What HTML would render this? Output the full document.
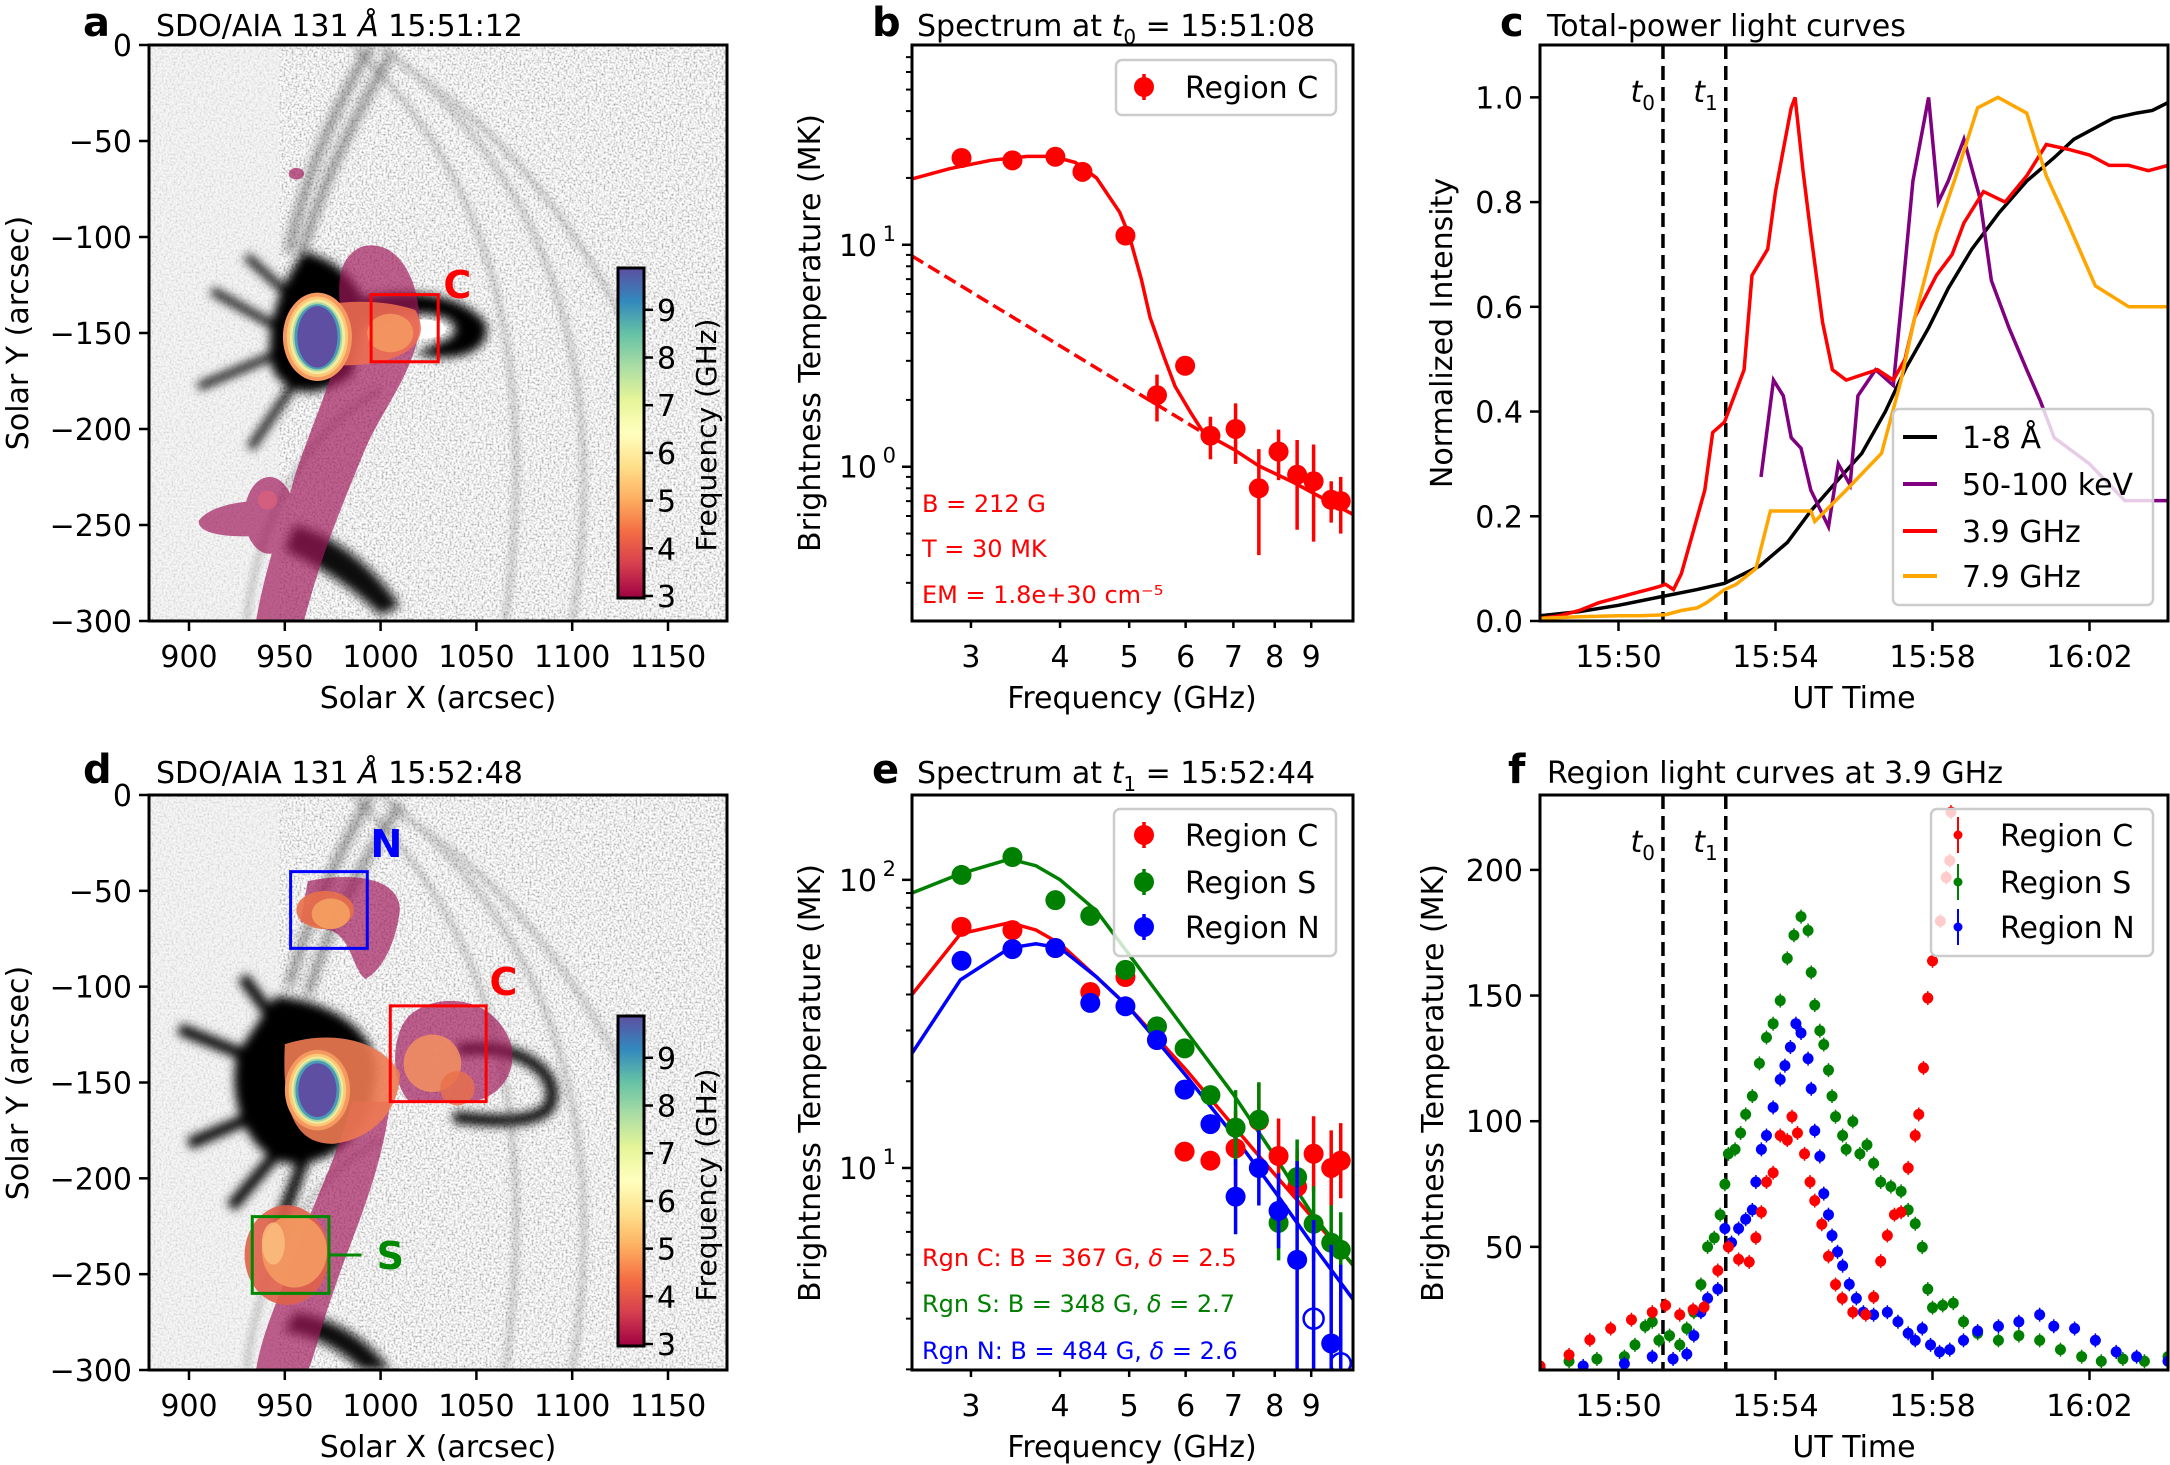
<!DOCTYPE html>
<html><head><meta charset="utf-8"><title>Radio spectra figure</title>
<style>
html,body{margin:0;padding:0;background:#fff;}
svg{display:block;font-family:"DejaVu Sans","Liberation Sans",sans-serif;}
</style></head>
<body>
<svg id="fig" width="2170" height="1465" viewBox="0 0 2170 1465" xmlns="http://www.w3.org/2000/svg">
<defs>
<filter id="noise" x="0" y="0" width="100%" height="100%">
<feTurbulence type="fractalNoise" baseFrequency="0.5" numOctaves="2" seed="3" result="t"/>
<feColorMatrix in="t" type="matrix" values="1.5 0 0 0 0.1  1.5 0 0 0 0.1  1.5 0 0 0 0.1  0 0 0 0 1"/>
</filter>
<filter id="blur3"><feGaussianBlur stdDeviation="2.5"/></filter>
<filter id="blur1"><feGaussianBlur stdDeviation="1.5"/></filter>
<linearGradient id="spec" x1="0" y1="1" x2="0" y2="0">
<stop offset="0" stop-color="#9e0142"/><stop offset="0.1" stop-color="#d53e4f"/><stop offset="0.2" stop-color="#f46d43"/><stop offset="0.3" stop-color="#fdae61"/><stop offset="0.4" stop-color="#fee08b"/><stop offset="0.5" stop-color="#ffffbf"/><stop offset="0.6" stop-color="#e6f598"/><stop offset="0.7" stop-color="#abdda4"/><stop offset="0.8" stop-color="#66c2a5"/><stop offset="0.9" stop-color="#3288bd"/><stop offset="1" stop-color="#5e4fa2"/>
</linearGradient>
<clipPath id="clipA"><rect x="149" y="45" width="578" height="576"/></clipPath>
<clipPath id="clipD"><rect x="149" y="795" width="578" height="575"/></clipPath>
<clipPath id="clipB"><rect x="912" y="45" width="441" height="576"/></clipPath>
<clipPath id="clipE"><rect x="912" y="795" width="441" height="575"/></clipPath>
<clipPath id="clipC"><rect x="1540" y="45" width="628" height="576"/></clipPath>
<clipPath id="clipF"><rect x="1540" y="795" width="628" height="575"/></clipPath>
</defs>
</svg>
<script>
// ---------- DATA ----------
// panel b: Region C spectrum at t0
const bFreq=[2.91,3.43,3.94,4.3,4.94,5.47,5.99,6.5,7.05,7.6,8.1,8.6,9.07,9.6,9.9];
const bTb=[24.6,24,24.9,21.3,11,2.1,2.85,1.38,1.48,0.8,1.17,0.92,0.86,0.71,0.70];
const bErr=[0,0,0,0,0,0.5,0,0.3,0.45,0.4,0.3,0.4,0.4,0.15,0.2];
const bFitF=[2.48,2.8,3.2,3.6,3.9,4.2,4.5,4.85,5.0,5.2,5.35,5.6,5.8,6.1,6.36,7.0,7.6,8.5,9.5,10.3];
const bFitT=[19.8,22,24,25,25,23.5,20,14,11,7,4.7,3.1,2.3,1.75,1.42,1.2,1.01,0.85,0.7,0.61];
const bDashF=[2.48,6.4];
const bDashT=[8.9,1.4];
// panel c: total power light curves (minutes after 15:48)
const cBlackT=[0,1,2,3,4,4.7,5.6,6.3,6.9,7.6,8.2,8.8,9.3,9.9,10.4,11,11.7,12.4,13.1,13.6,14.1,14.6,15.2,15.6,16];
const cBlackV=[0.01,0.018,0.03,0.045,0.06,0.072,0.105,0.15,0.21,0.27,0.32,0.4,0.48,0.56,0.635,0.71,0.78,0.84,0.885,0.92,0.94,0.96,0.97,0.975,0.99];
const cRedT=[0,0.5,1,1.5,2,2.5,3,3.2,3.4,3.6,3.9,4.2,4.4,4.7,5.0,5.2,5.4,5.8,6.0,6.2,6.4,6.5,6.7,6.9,7.2,7.45,7.8,8.2,8.6,9.0,9.3,9.55,10.1,10.5,10.8,11.3,11.85,12.4,12.9,13.5,14.0,14.5,15.0,15.5,16];
const cRedV=[0.005,0.01,0.02,0.035,0.045,0.055,0.065,0.07,0.06,0.09,0.17,0.25,0.36,0.38,0.44,0.48,0.66,0.71,0.82,0.9,0.98,1.0,0.86,0.74,0.57,0.48,0.46,0.47,0.48,0.46,0.5,0.58,0.66,0.7,0.76,0.82,0.8,0.85,0.91,0.9,0.89,0.87,0.87,0.86,0.87];
const cOrangeT=[0,1,2,2.55,3.2,3.6,4.0,4.25,4.7,5.0,5.5,5.87,6.2,6.9,7.0,7.8,8.7,9.2,9.55,10.1,10.6,11.15,11.67,12.4,12.9,13.45,14.15,15.0,16];
const cOrangeV=[0.005,0.008,0.01,0.01,0.012,0.02,0.025,0.035,0.06,0.07,0.1,0.21,0.21,0.21,0.19,0.25,0.32,0.46,0.58,0.74,0.85,0.98,1.0,0.97,0.85,0.76,0.64,0.6,0.6];
const cPurpleT=[5.63,5.95,6.2,6.4,6.65,6.9,7.35,7.6,7.9,8.1,8.55,9.0,9.25,9.5,9.9,10.15,10.4,10.8,11.2,11.5,11.95,12.4,12.75,13.1,14.0,14.9,16];
const cPurpleV=[0.275,0.46,0.43,0.35,0.33,0.25,0.18,0.3,0.26,0.43,0.48,0.45,0.64,0.84,1.0,0.8,0.84,0.92,0.81,0.65,0.56,0.48,0.42,0.35,0.3,0.23,0.23];
// panel e: spectra at t1
const eFreq=[2.91,3.43,3.94,4.41,4.94,5.47,5.98,6.5,7.05,7.6,8.1,8.6,9.07,9.6,9.9];
const eRed=[68.7,66.9,58,40.8,46,27.8,11.4,10.6,11.7,14.6,11.0,8.6,11.2,10,10.6];
const eGreen=[104,120,85,75,48.7,31,26,17.9,13.8,14.7,6.45,9.3,6.4,5.5,5.2];
const eBlue=[52.4,57.5,58,37.4,36.4,27.8,18.7,14.2,7.95,10,7.1,4.8,3.0,2.46,2.1];
const eFitF=[2.48,2.9,3.4,3.7,4.0,4.5,5,6,7,8,9,10.3];
const eFitRed=[40,65,71,67,60,46,36,22,14,9.5,6.8,4.6];
const eFitGreen=[90,105,118,112,100,78,55,30,18,11,7,4.6];
const eFitBlue=[25,45,58,60,58,46,36,21,13,8.3,5.5,3.5];
// panel f: region light curves at 3.9 GHz
const fRedT=[0,0.74,1.27,1.8,2.33,2.86,3.2,3.56,3.9,4.18,4.53,4.8,5.06,5.33,5.5,5.64,5.77,5.94,6.12,6.3,6.42,6.56,6.74,6.88,7.0,7.18,7.35,7.53,7.7,7.97,8.3,8.5,8.68,8.85,9.03,9.2,9.38,9.56,9.65,9.77,9.88,10.0,10.2,10.35,10.44,10.47];
const fRedV=[2.6,7,13,17.5,21,24,26.7,23,25,26,40.6,50,45,44,53.6,63.8,75.8,79.5,94.3,92.5,101.8,95.3,87,75.8,68.4,59,46.2,35,29.5,24,23,30,44.3,54.5,62.8,63.8,81.4,94.3,102.7,121.2,149,163.8,179.6,197,203.7,223];
const fGreenT=[0,0.74,1.45,2.15,2.42,2.68,2.86,3.03,3.3,3.56,3.74,3.92,4.1,4.27,4.44,4.59,4.71,4.8,4.97,5.11,5.24,5.41,5.59,5.77,5.94,6.12,6.3,6.47,6.65,6.83,6.91,7.0,7.13,7.23,7.35,7.44,7.53,7.71,7.8,7.97,8.15,8.33,8.5,8.68,8.94,9.2,9.38,9.56,9.74,9.88,10.0,10.26,10.53,10.79,11.15,11.68,12.2,12.73,13.26,13.8,14.3,14.85,15.4,16];
const fGreenV=[2,4.5,5.4,6.3,11,18.4,20.2,12.8,14.7,11,17.5,24,35,50,53.6,62.8,74.9,87,88.8,95.3,102.7,110,123,133.3,138.8,148,164.8,174,181.4,175.9,159.2,146.2,136,130.5,120.3,110,101.8,94.3,88.8,99.9,87,90.6,83.2,75.8,74,72.1,64.7,59.2,49.9,33.2,25.8,26.7,27.6,20.2,15.6,12.8,14.7,12.8,9.1,6.3,4.5,5.4,4.5,6.3];
const fBlueT=[0,1.1,2.15,2.86,3.39,3.74,3.92,4.1,4.27,4.53,4.71,4.88,5.06,5.24,5.41,5.5,5.64,5.77,5.94,6.12,6.24,6.38,6.52,6.65,6.83,6.91,7.0,7.13,7.23,7.35,7.44,7.58,7.71,7.88,8.06,8.24,8.5,8.85,9.12,9.38,9.56,9.74,9.95,10.18,10.44,10.79,11.15,11.68,12.2,12.73,13.09,13.62,14.15,14.68,15.2,16];
const fBlueV=[2,2.6,3.5,6.3,5.4,7.3,14.7,24,29.5,33.2,57.3,51.7,57.3,61,64.7,75.8,88.8,94.3,105.5,116.6,122.1,129.5,138.8,135.1,124.9,112.9,96.2,86,71.2,62.8,54.5,48,42.5,35.1,29.5,24,23,24,20.2,15.6,12.8,17.5,11,8.2,9.1,12.8,16.5,18.4,20.2,23,18.4,17.5,12.8,8.2,6.3,4.5];
const xTimeTicks=[2,6,10,14];
const xTimeLabels=['15:50','15:54','15:58','16:02'];
const tMarks=[3.133,4.733];

// ---------- HELPERS ----------
const NS='http://www.w3.org/2000/svg';
const svg=document.getElementById('fig');
function mk(tag,attrs,parent){const e=document.createElementNS(NS,tag);for(const k in attrs)e.setAttribute(k,attrs[k]);(parent||svg).appendChild(e);return e;}
function txt(x,y,s,attrs,parent){const e=mk('text',Object.assign({x:x,y:y,'font-size':30,fill:'#000'},attrs||{}),parent);e.textContent=s;return e;}
function linS(d0,d1,r0,r1){return v=>r0+(v-d0)/(d1-d0)*(r1-r0);}
function logS(d0,d1,r0,r1){return v=>r0+(Math.log(v)-Math.log(d0))/(Math.log(d1)-Math.log(d0))*(r1-r0);}
const A={l:149,r:727,t:45,b:621},D={l:149,r:727,t:795,b:1370};
const B={l:912,r:1353,t:45,b:621},E={l:912,r:1353,t:795,b:1370};
const C={l:1540,r:2168,t:45,b:621},F={l:1540,r:2168,t:795,b:1370};
function frame(ax,name){const r=mk('rect',{x:ax.l,y:ax.t,width:ax.r-ax.l,height:ax.b-ax.t,fill:'none',stroke:'#000','stroke-width':3});

}
function xtick(ax,px,label,len,g){mk('line',{x1:px,y1:ax.b,x2:px,y2:ax.b+len,stroke:'#000','stroke-width':2.5},g);if(label!==null){const t=txt(px,ax.b+46,label,{'text-anchor':'middle'},g);

}}
function ytick(ax,py,label,len,g){mk('line',{x1:ax.l-len,y1:py,x2:ax.l,y2:py,stroke:'#000','stroke-width':2.5},g);if(label!==null){const t=txt(ax.l-17,py+11,label,{'text-anchor':'end'},g);

}}
function ypow(ax,py,exp,g){mk('line',{x1:ax.l-10,y1:py,x2:ax.l,y2:py,stroke:'#000','stroke-width':2.5},g);const t=txt(ax.l-35,py+11,'10',{'text-anchor':'end'},g);


txt(ax.l-16,py-4,String(exp),{'text-anchor':'end','font-size':21},g);}
function ylabel(x,cy,s,name){const t=txt(x,cy,s,{'text-anchor':'middle',transform:'rotate(-90 '+x+' '+cy+')'});

}
function xlabel(cx,y,s,name){const t=txt(cx,y,s,{'text-anchor':'middle'});

}
function title(lx,ly,letter,tx,s,name){const l=txt(lx,ly,letter,{'font-weight':'bold','font-size':40});


const t=mk('text',{x:tx,y:ly,'font-size':30});t.innerHTML=s;

}
function poly(xs,ys,sx,sy,attrs,g){let d='';for(let i=0;i<xs.length;i++){d+=(i?'L':'M')+sx(xs[i]).toFixed(1)+' '+sy(ys[i]).toFixed(1);}return mk('path',Object.assign({d:d,fill:'none'},attrs),g);}

// ---------- MAPS (a, d) ----------
function mapPanel(ax,clip,which){
 const g=mk('g',{'clip-path':'url(#'+clip+')'});
 
 
 mk('rect',{x:ax.l,y:ax.t,width:ax.r-ax.l,height:ax.b-ax.t,fill:'#ddd',filter:'url(#noise)'},g);
 mk('rect',{x:ax.l,y:ax.t,width:130,height:ax.b-ax.t,fill:'#f0f0f0',opacity:0.6},g);
 const sy=(ax.b-ax.t)/300;
 const m=mk('g',{transform:'translate('+(189-900*1.917)+' '+ax.t+') scale(1.917 '+sy+')'},g);
 const dark=mk('g',{filter:'url(#blur3)'},m);
 const arcs=mk('g',{fill:'none',stroke:'#555','stroke-width':4,opacity:0.22,filter:'url(#blur1)'},m);
 mk('path',{d:'M985 0 C1050 60 1085 150 1065 300'},arcs);
 mk('path',{d:'M1000 0 C1090 70 1120 170 1100 300'},arcs);
 mk('path',{d:'M930 300 C935 250 960 200 1000 180'},arcs);
 mk('path',{d:'M1010 10 C1060 40 1100 90 1130 150'},arcs);
 if(which==='a'){
  mk('path',{d:'M960 108 C975 110 992 125 992 140 L985 172 C970 182 955 186 944 170 C938 150 947 125 960 108 Z',fill:'#000'},dark);
  mk('path',{d:'M985 133 C1010 126 1042 128 1055 145 C1058 160 1040 166 1018 161 L1030 155 C1044 152 1042 140 1020 140 C1005 140 995 146 985 146 Z',fill:'#000'},dark);
  mk('path',{d:'M948 148 L912 128 M948 160 L905 178 M958 172 L932 210 M952 130 L930 110',stroke:'#000','stroke-width':4,fill:'none'},dark);
  mk('path',{d:'M952 108 C960 70 975 35 995 0 M958 112 C968 75 985 40 1005 5',stroke:'#222','stroke-width':2.5,fill:'none',opacity:0.8},dark);
  mk('path',{d:'M955 250 C975 255 995 270 1010 292 L1000 297 C985 282 965 270 950 263 Z',fill:'#111'},dark);
  mk('ellipse',{cx:1022,cy:148,rx:12,ry:5,fill:'#fff'},m);
  const mg=mk('g',{fill:'#a0175a',opacity:0.68},m);
  mk('path',{d:'M990 105 C1010 100 1022 125 1020 150 C1015 175 1000 190 990 215 C980 240 970 262 960 300 L935 300 C940 270 950 245 955 225 C965 195 975 175 980 150 C978 130 975 112 990 105 Z'},mg);
  mk('ellipse',{cx:942,cy:245,rx:13,ry:20},mg);
  mk('path',{d:'M945 238 C930 236 910 240 905 248 C905 256 925 257 945 255 Z'},mg);
  mk('ellipse',{cx:956,cy:67,rx:4,ry:3},mg);
  mk('circle',{cx:941,cy:237,r:5,fill:'#e0607a',opacity:0.7},m);
  mk('path',{d:'M955 140 C975 132 1000 132 1018 138 C1025 150 1020 160 1000 165 C985 168 965 168 955 160 Z',fill:'#f07050',opacity:0.85},m);
  mk('ellipse',{cx:1005,cy:150,rx:12,ry:10,fill:'#f49a60',opacity:0.85},m);
  const core=[[18,23,'#f49a60'],[16,21,'#fdc878'],[14.5,19.5,'#f0eca0'],[13,18,'#a8d8a0'],[12,17,'#4a9bb8'],[10.5,16,'#5e4fa2']];
  core.forEach(c=>mk('ellipse',{cx:967,cy:152,rx:c[0],ry:c[1],fill:c[2]},m));
  const bx=mk('rect',{x:995,y:130,width:35,height:35,fill:'none',stroke:'#f00','stroke-width':3,'vector-effect':'non-scaling-stroke'},m);
  
  
 } else {
  mk('path',{d:'M945 105 C980 108 1002 128 997 150 C995 175 975 195 950 192 C930 186 920 160 925 135 Z',fill:'#000'},dark);
  mk('path',{d:'M940 140 L895 122 M940 165 L900 182 M950 182 L922 215 M945 118 L928 95 M960 190 L945 230',stroke:'#000','stroke-width':6,fill:'none'},dark);
  mk('path',{d:'M1040 133 C1075 128 1097 148 1087 164 C1077 172 1055 170 1038 168',stroke:'#000','stroke-width':6,fill:'none'},dark);
  mk('path',{d:'M952 100 C962 65 978 30 995 0 M962 104 C972 70 990 35 1010 5',stroke:'#222','stroke-width':2.5,fill:'none',opacity:0.8},dark);
  mk('path',{d:'M955 270 C975 272 995 285 1005 300 L990 300 C980 290 965 282 950 280 Z',fill:'#111'},dark);
  const mg=mk('g',{fill:'#a0175a',opacity:0.68},m);
  mk('path',{d:'M962 45 C985 40 1010 43 1010 60 C1008 78 1000 92 992 96 C985 90 985 76 975 71 L958 66 Z'},mg);
  mk('path',{d:'M1015 115 C1030 102 1060 105 1068 130 C1072 146 1060 160 1045 160 L1015 160 C1005 150 1005 125 1015 115 Z'},mg);
  mk('path',{d:'M985 160 L1005 160 C1000 200 985 230 975 260 C968 280 965 295 962 300 L935 300 C938 280 948 260 955 240 C965 212 978 188 985 160 Z'},mg);
  mk('path',{d:'M950 130 C975 122 1000 128 1010 145 C1010 165 995 180 975 182 C958 182 948 170 950 130 Z',fill:'#ee7a52',opacity:0.9},m);
  mk('ellipse',{cx:1027,cy:140,rx:15,ry:15,fill:'#f39060',opacity:0.85},m);
  mk('ellipse',{cx:1040,cy:153,rx:9,ry:9,fill:'#e8704a',opacity:0.8},m);
  mk('ellipse',{cx:971,cy:60,rx:15,ry:10,fill:'#e8704a',opacity:0.9},m);
  mk('ellipse',{cx:974,cy:62,rx:10,ry:8,fill:'#f5a062',opacity:0.9},m);
  mk('ellipse',{cx:951,cy:240,rx:22,ry:26,fill:'#e0604a',opacity:0.9},m);
  mk('ellipse',{cx:955,cy:238,rx:17,ry:19,fill:'#f39a60',opacity:0.9},m);
  mk('ellipse',{cx:944,cy:234,rx:6,ry:11,fill:'#fbc080',opacity:0.8},m);
  const core=[[17,21,'#f49a60'],[15,19,'#fdc878'],[13.5,17.5,'#f0eca0'],[12.5,16.5,'#a8d8a0'],[11.5,15.5,'#4a9bb8'],[10,14,'#5e4fa2']];
  core.forEach(c=>mk('ellipse',{cx:967,cy:154,rx:c[0],ry:c[1],fill:c[2]},m));
  const bn=mk('rect',{x:953,y:40,width:40,height:40,fill:'none',stroke:'#00f','stroke-width':3,'vector-effect':'non-scaling-stroke'},m);
  
  
  const bc=mk('rect',{x:1005,y:110,width:50,height:50,fill:'none',stroke:'#f00','stroke-width':3,'vector-effect':'non-scaling-stroke'},m);
  
  
  const bs=mk('rect',{x:933,y:220,width:40,height:40,fill:'none',stroke:'#080','stroke-width':3,'vector-effect':'non-scaling-stroke'},m);
  
  
  mk('line',{x1:973,y1:240,x2:990,y2:240,stroke:'#080','stroke-width':3,'vector-effect':'non-scaling-stroke'},m);
 }
 // colorbar
 const cb=mk('rect',{x:618,y:ax.t+(which==='a'?223:221),width:26,height:330,fill:'url(#spec)',stroke:'#000','stroke-width':3});
 
 
 const cy0=ax.t+(which==='a'?551:549), per=47.7;
 for(let f=3;f<=9;f++){const y=cy0-(f-3)*per;mk('line',{x1:644,y1:y,x2:653,y2:y,stroke:'#000','stroke-width':2.5});const t=txt(657,y+11,String(f),{});
  
  }
 const cl=txt(716,ax.t+390,'Frequency (GHz)',{'text-anchor':'middle','font-size':28,transform:'rotate(-90 716 '+(ax.t+390)+')'});
 
 
 frame(ax,'map-axes-'+which);
 const X=linS(900,1150,189,668);
 for(let v=900;v<=1150;v+=50)xtick(ax,X(v),String(v),10);
 for(let v=0;v>=-300;v-=50)ytick(ax,ax.t-v*sy,v===0?'0':'\u2212'+(-v),10);
 xlabel(438,ax.b+87,'Solar X (arcsec)','x-axis-title-'+which);
 ylabel(28,ax.t+288,'Solar Y (arcsec)','y-axis-title-'+which);
}
mapPanel(A,'clipA','a');
mapPanel(D,'clipD','d');
const px=X=>189+(X-900)*1.917;
let lab=txt(px(1040),45+125*1.92+13,'C',{fill:'#f00','font-weight':'bold','font-size':38,'text-anchor':'middle'});


lab=txt(px(1003),795+25*1.917+14,'N',{fill:'#00f','font-weight':'bold','font-size':38,'text-anchor':'middle'});


lab=txt(px(1064),795+97*1.917+14,'C',{fill:'#f00','font-weight':'bold','font-size':38,'text-anchor':'middle'});


lab=txt(px(1005),795+240*1.917+14,'S',{fill:'#080','font-weight':'bold','font-size':38,'text-anchor':'middle'});


title(83,36,'a',156,'SDO/AIA 131 <tspan font-style="italic">Å</tspan> 15:51:12','map-title-a');
title(83,783,'d',156,'SDO/AIA 131 <tspan font-style="italic">Å</tspan> 15:52:48','map-title-d');

// ---------- SPECTRUM PANELS ----------
const xB=logS(2.48,10.3,912,1353);
function freqAxis(ax){for(let f=3;f<=9;f++)xtick(ax,xB(f),String(f),7);xlabel(1132,ax.b+87,'Frequency (GHz)','x-axis-title');}
function minorY(ax,ys,lo,hi){for(let d=-1;d<=2;d++)for(let k=2;k<=9;k++){const v=k*Math.pow(10,d);if(v>lo&&v<hi)mk('line',{x1:ax.l-6,y1:ys(v),x2:ax.l,y2:ys(v),stroke:'#000','stroke-width':2});}}
function dot(cx,cy,color,g,err,open){if(err){mk('line',{x1:cx,y1:err[0],x2:cx,y2:err[1],stroke:color,'stroke-width':3.5},g);}
 const c=mk('circle',{cx:cx,cy:cy,r:10,fill:open?'none':color,stroke:color,'stroke-width':open?2.5:0},g);
 
 }
// b
const yB=logS(0.2019,79.4,621,45);
{const g=mk('g',{'clip-path':'url(#clipB)'});
 
 
 const fit=poly(bFitF,bFitT,xB,yB,{stroke:'#f00','stroke-width':3.5},g);
 
 
 const dsh=poly(bDashF,bDashT,xB,yB,{stroke:'#f00','stroke-width':3.5,'stroke-dasharray':'13 6'},g);
 
 
 for(let i=0;i<bFreq.length;i++){const e=bErr[i]?[yB(bTb[i]+bErr[i]),yB(Math.max(0.21,bTb[i]-bErr[i]))]:null;dot(xB(bFreq[i]),yB(bTb[i]),'#f00',g,e);}
}
frame(B,'spectrum-axes-b');
minorY(B,yB,0.2019,79.4);ypow(B,yB(10),1);ypow(B,yB(1),0);freqAxis(B);
ylabel(820,333,'Brightness Temperature (MK)','y-axis-title-b');
[['B = 212 G',512],['T = 30 MK',557],['EM = 1.8e+30 cm\u207B\u2075',603]].forEach(a=>{const t=txt(922,a[1],a[0],{fill:'#f00','font-size':24});
 
 });
title(872,36,'b',917,'Spectrum at <tspan font-style="italic">t</tspan><tspan font-size="20" dy="8">0</tspan><tspan dy="-8"> = 15:51:08</tspan>','spectrum-title-b');
function legendBox(x,y,w,h,name){const r=mk('rect',{x:x,y:y,width:w,height:h,rx:6,fill:'#fff','fill-opacity':0.8,stroke:'#ccc','stroke-width':2.5});
 
 }
function legMarker(x,y,color,label,tx,small){const g=mk('g',{});
 
 
 mk('line',{x1:x,y1:y-(small?18:13),x2:x,y2:y+(small?18:13),stroke:color,'stroke-width':small?2:3.5},g);
 mk('circle',{cx:x,cy:y,r:small?4.5:10,fill:color},g);
 txt(tx,y+11,label,{},g);}
legendBox(1116,60,220,55,'legend-b');
legMarker(1144,87,'#f00','Region C',1185);
// e
const yE=logS(1.99,197,1370,795);
{const g=mk('g',{'clip-path':'url(#clipE)'});
 
 
 const series=[[eFitRed,eRed,'#f00','red'],[eFitGreen,eGreen,'#008000','green'],[eFitBlue,eBlue,'#00f','blue']];
 series.forEach(s=>{const l=poly(eFitF,s[0],xB,yE,{stroke:s[2],'stroke-width':3.5},g);
  
  });
 series.forEach(s=>{for(let i=0;i<eFreq.length;i++){const v=s[1][i];let e=null;if(eFreq[i]>7)e=[yE(v*1.35),yE(v/1.35)];if(s[3]==='blue'&&eFreq[i]>8.5)e=[yE(v*2.2),yE(v/2.5)];dot(xB(eFreq[i]),yE(v),s[2],g,e,s[3]==='blue'&&(i===12||i===14));}});
}
frame(E,'spectrum-axes-e');
minorY(E,yE,1.99,197);ypow(E,yE(100),2);ypow(E,yE(10),1);freqAxis(E);
ylabel(820,1083,'Brightness Temperature (MK)','y-axis-title-e');
[['Rgn C: B = 367 G, ','#f00',1266,'2.5'],['Rgn S: B = 348 G, ','#008000',1312,'2.7'],['Rgn N: B = 484 G, ','#00f',1359,'2.6']].forEach(a=>{const t=mk('text',{x:922,y:a[2],'font-size':24,fill:a[1]});t.innerHTML=a[0]+'<tspan font-style="italic">\u03B4</tspan> = '+a[3];
 
 });
title(872,783,'e',917,'Spectrum at <tspan font-style="italic">t</tspan><tspan font-size="20" dy="8">1</tspan><tspan dy="-8"> = 15:52:44</tspan>','spectrum-title-e');
legendBox(1114,809,222,147,'legend-e');
legMarker(1144,835,'#f00','Region C',1185);
legMarker(1144,882,'#008000','Region S',1185);
legMarker(1144,927,'#00f','Region N',1185);

// ---------- LIGHT CURVES ----------
const xC=linS(0,16,1540,2168);
function timeAxis(ax){xTimeTicks.forEach((t,i)=>xtick(ax,xC(t),xTimeLabels[i],10));xlabel(1854,ax.b+87,'UT Time','x-axis-title');}
function tLines(ax,g){tMarks.forEach((t,i)=>{const l=mk('line',{x1:xC(t),y1:ax.t,x2:xC(t),y2:ax.b,stroke:'#000','stroke-width':3.5,'stroke-dasharray':'14 7'},g);
 
 
 const tt=mk('text',{x:xC(t)-8,y:ax.t+57,'font-size':30,'text-anchor':'end'},g);tt.innerHTML='<tspan font-style="italic">t</tspan><tspan font-size="20" dy="8">'+i+'</tspan>';});}
const yC=linS(0,1.1,621,45);
{const g=mk('g',{'clip-path':'url(#clipC)'});
 
 
 tLines(C,g);
 let l=poly(cBlackT,cBlackV,xC,yC,{stroke:'#000','stroke-width':3.5},g);
 
 
 l=poly(cPurpleT,cPurpleV,xC,yC,{stroke:'#800080','stroke-width':3.5},g);
 
 
 l=poly(cRedT,cRedV,xC,yC,{stroke:'#f00','stroke-width':3.5},g);
 
 
 l=poly(cOrangeT,cOrangeV,xC,yC,{stroke:'#ffa500','stroke-width':3.5},g);
 
 
}
frame(C,'lightcurve-axes-c');
for(let v=0;v<=1.0001;v+=0.2)ytick(C,yC(v),v.toFixed(1),10);
timeAxis(C);
ylabel(1452,333,'Normalized Intensity','y-axis-title-c');
title(1500,36,'c',1547,'Total-power light curves','lightcurve-title-c');
legendBox(1893,409,260,196,'legend-c');
[['1-8 \u00C5','#000',437],['50-100 keV','#800080',484],['3.9 GHz','#f00',531],['7.9 GHz','#ffa500',576]].forEach(a=>{const g=mk('g',{});
 
 
 mk('line',{x1:1903,y1:a[2],x2:1937,y2:a[2],stroke:a[1],'stroke-width':4},g);txt(1962,a[2]+11,a[0],{},g);});
// f
const yF=linS(1,229.8,1370,795);
{const g=mk('g',{'clip-path':'url(#clipF)'});
 
 
 tLines(F,g);
 [[fGreenT,fGreenV,'#008000','green'],[fBlueT,fBlueV,'#00f','blue'],[fRedT,fRedV,'#f00','red']].forEach(s=>{for(let i=0;i<s[0].length;i++){const cx=xC(s[0][i]),cy=yF(s[1][i]);mk('line',{x1:cx,y1:cy-7,x2:cx,y2:cy+7,stroke:s[2],'stroke-width':1.5},g);const c=mk('circle',{cx:cx,cy:cy,r:5.5,fill:s[2]},g);
  
  }});
}
frame(F,'lightcurve-axes-f');
for(let v=50;v<=200;v+=50)ytick(F,yF(v),String(v),10);
timeAxis(F);
ylabel(1443,1083,'Brightness Temperature (MK)','y-axis-title-f');
title(1508,783,'f',1547,'Region light curves at 3.9 GHz','lightcurve-title-f');
legendBox(1931,809,222,147,'legend-f');
legMarker(1958,835,'#f00','Region C',2000,true);
legMarker(1958,882,'#008000','Region S',2000,true);
legMarker(1958,927,'#00f','Region N',2000,true);
</script>
</body></html>
